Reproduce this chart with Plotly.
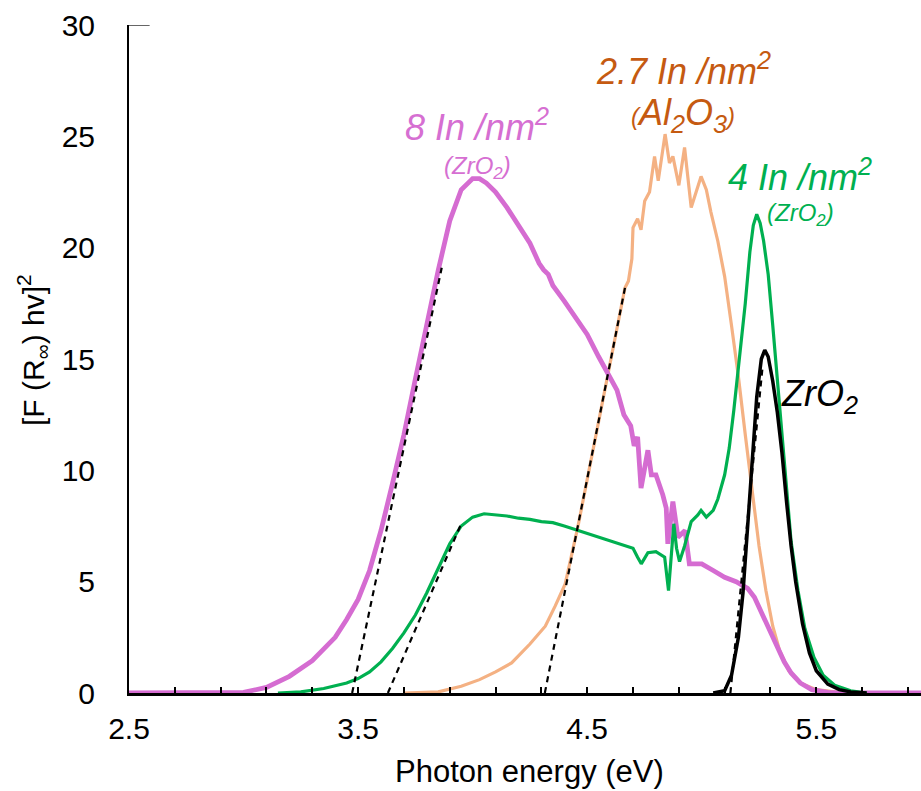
import plotly.graph_objects as go

# ---------------- data ----------------
pink_x = [2.5, 2.9, 3.0, 3.1, 3.2, 3.3, 3.4, 3.45, 3.5, 3.55, 3.6, 3.65, 3.7, 3.75, 3.8, 3.85,
          3.9, 3.95, 4.0, 4.03, 4.06, 4.1, 4.15, 4.2, 4.25, 4.29, 4.31, 4.33, 4.35, 4.4, 4.45,
          4.5, 4.55, 4.6, 4.63, 4.66, 4.69, 4.705, 4.72, 4.735, 4.765, 4.78, 4.80, 4.83, 4.845,
          4.852, 4.874, 4.896, 4.927, 4.946, 4.97, 5.0, 5.05, 5.1, 5.15, 5.2, 5.23, 5.26, 5.29,
          5.33, 5.36, 5.39, 5.43, 5.48, 5.55, 5.6, 5.957]
pink_y = [0, 0, 0.03, 0.25, 0.75, 1.45, 2.5, 3.3, 4.2, 5.5, 7.3, 9.4, 11.6, 14.1, 16.6, 19.0,
          21.2, 22.6, 23.1, 23.1, 22.9, 22.5, 21.8, 21.0, 20.2, 19.3, 19.0, 18.8, 18.3, 17.6, 16.8,
          16.1, 15.1, 14.2, 13.6, 12.5, 12.0, 11.1, 11.5, 9.2, 10.9, 9.8, 9.8, 8.9, 8.3,
          6.7, 8.6, 7.0, 7.3, 5.8, 5.8, 5.8, 5.5, 5.2, 5.0, 4.7, 4.3, 3.6, 3.0,
          2.0, 1.4, 0.9, 0.45, 0.15, 0.03, 0, 0]

green_x = [3.15, 3.25, 3.35, 3.45, 3.5, 3.55, 3.6, 3.65, 3.7, 3.75, 3.8, 3.85, 3.9, 3.95, 4.0,
           4.05, 4.1, 4.15, 4.2, 4.25, 4.3, 4.35, 4.4, 4.43, 4.47, 4.5, 4.55, 4.6, 4.65, 4.7,
           4.72, 4.736, 4.765, 4.80, 4.838, 4.855, 4.878, 4.89, 4.903, 4.925, 4.954, 4.983,
           4.997, 5.02, 5.05, 5.07, 5.1, 5.12, 5.14, 5.165, 5.19, 5.21, 5.225, 5.24, 5.255,
           5.27, 5.29, 5.31, 5.33, 5.35, 5.37, 5.39, 5.42, 5.45, 5.49, 5.53, 5.58, 5.65, 5.72]
green_y = [0, 0.05, 0.2, 0.45, 0.65, 0.95, 1.4, 2.0, 2.7, 3.5, 4.5, 5.6, 6.7, 7.5, 7.9,
           8.05, 8.0, 7.95, 7.85, 7.8, 7.7, 7.65, 7.5, 7.4, 7.3, 7.2, 7.0, 6.85, 6.7, 6.5,
           6.1, 5.8, 6.3, 6.35, 6.1, 4.6, 7.6, 6.5, 5.9, 6.6, 7.7, 8.0,
           8.2, 7.9, 8.2, 8.7, 9.8, 11.0, 12.7, 15.0, 17.5, 19.8, 21.0, 21.5, 21.1,
           20.3, 18.8, 16.5, 14.0, 11.5, 9.0, 6.8, 4.6, 2.9, 1.6, 0.8, 0.35, 0.1, 0]

orange_x = [3.7, 3.85, 3.95, 4.03, 4.1, 4.17, 4.25, 4.317, 4.36, 4.404, 4.46, 4.5, 4.55, 4.6,
            4.64, 4.665, 4.68, 4.695, 4.70, 4.72, 4.735, 4.751, 4.772, 4.794, 4.81, 4.84,
            4.859, 4.874, 4.9, 4.925, 4.954, 4.975, 4.997, 5.02, 5.04, 5.07, 5.1, 5.13, 5.16,
            5.19, 5.22, 5.25, 5.28, 5.31, 5.34, 5.38, 5.43, 5.5, 5.6, 5.8]
orange_y = [0, 0.05, 0.3, 0.6, 0.95, 1.35, 2.2, 3.0, 3.9, 4.9, 7.5, 9.6, 12.2, 14.8,
            16.9, 18.2, 18.5, 19.5, 20.9, 21.3, 20.8, 22.1, 22.5, 24.1, 23.0, 25.1,
            23.8, 24.1, 22.8, 24.5, 21.8, 22.5, 23.2, 22.6, 21.6, 20.3, 18.7, 16.5, 14.2,
            11.6, 9.0, 6.6, 4.6, 3.0, 1.9, 1.0, 0.45, 0.15, 0.03, 0]

black_x = [5.05, 5.10, 5.13, 5.16, 5.18, 5.20, 5.22, 5.24, 5.26, 5.275, 5.29, 5.31, 5.33,
           5.35, 5.37, 5.39, 5.41, 5.44, 5.47, 5.50, 5.55, 5.6, 5.65, 5.72]
black_y = [0, 0.1, 0.8, 2.5, 4.5, 7.5, 10.5, 13.3, 15.0, 15.4, 15.1, 14.0, 12.6,
           10.8, 8.6, 6.6, 5.0, 3.1, 1.8, 1.0, 0.4, 0.15, 0.05, 0]

# Tauc tangent lines (extrapolated band-gap fits)
tan_pink_x, tan_pink_y = [3.474, 3.865], [0, 19.1]
tan_green_x, tan_green_y = [3.63, 3.95], [0, 7.6]
tan_orange_x, tan_orange_y = [4.315, 4.665], [0, 18.2]
tan_black_x, tan_black_y = [5.125, 5.265], [0, 14.6]

x_tick_vals = [2.5, 3.5, 4.5, 5.5]
x_tick_text = ["2.5", "3.5", "4.5", "5.5"]
y_tick_vals = [0, 5, 10, 15, 20, 25, 30]

# ---------------- styles ----------------
PINK = "#D56CD1"
PINK_TXT = "#D66FD2"
GREEN = "#00B050"
ORANGE = "#F4B183"
ORANGE_TXT = "#C55A11"
FONT = "Arial, Liberation Sans, sans-serif"

fig = go.Figure()
fig.add_trace(go.Scatter(x=orange_x, y=orange_y, mode="lines",
                         line=dict(color=ORANGE, width=3.2), showlegend=False))
fig.add_trace(go.Scatter(x=pink_x, y=pink_y, mode="lines",
                         line=dict(color=PINK, width=4.8), showlegend=False))
fig.add_trace(go.Scatter(x=green_x, y=green_y, mode="lines",
                         line=dict(color=GREEN, width=3.2), showlegend=False))
fig.add_trace(go.Scatter(x=black_x, y=black_y, mode="lines",
                         line=dict(color="black", width=3.5), showlegend=False))
for tx, ty in [(tan_pink_x, tan_pink_y), (tan_green_x, tan_green_y),
               (tan_orange_x, tan_orange_y), (tan_black_x, tan_black_y)]:
    fig.add_trace(go.Scatter(x=tx, y=ty, mode="lines",
                             line=dict(color="black", width=2.2, dash="6px,5px"),
                             showlegend=False))

anns = [
    dict(x=4.018, y=25.5, text="<i>8 In /nm<sup>2</sup></i>", color=PINK_TXT, size=36),
    dict(x=4.023, y=23.62, text="<i>(ZrO<sub>2</sub>)</i>", color=PINK_TXT, size=24),
    dict(x=4.922, y=28.02, text="<i>2.7 In /nm<sup>2</sup></i>", color=ORANGE_TXT, size=36),
    dict(x=4.918, y=25.95,
         text="<i><span style='font-size:24px'>(</span>Al<sub>2</sub>O<sub>3</sub>"
              "<span style='font-size:24px'>)</span></i>",
         color=ORANGE_TXT, size=36),
    dict(x=5.429, y=23.26, text="<i>4 In /nm<sup>2</sup></i>", color=GREEN, size=36),
    dict(x=5.433, y=21.51, text="<i>(ZrO<sub>2</sub>)</i>", color=GREEN, size=24),
    dict(x=5.516, y=13.34, text="<i>ZrO<sub>2</sub></i>", color="black", size=36),
]
for a in anns:
    fig.add_annotation(x=a["x"], y=a["y"], xref="x", yref="y", text=a["text"],
                       showarrow=False, xanchor="center", yanchor="middle",
                       font=dict(family=FONT, size=a["size"], color=a["color"]))

# axis titles
fig.add_annotation(x=0.506, y=-0.1168, xref="paper", yref="paper",
                   text="Photon energy (eV)", showarrow=False,
                   xanchor="center", yanchor="middle",
                   font=dict(family=FONT, size=31, color="black"))
fig.add_annotation(x=-0.1212, y=0.5135, xref="paper", yref="paper",
                   text="[F (R<sub>∞</sub>) hv]<sup>2</sup>", showarrow=False,
                   textangle=-90, xanchor="center", yanchor="middle",
                   font=dict(family=FONT, size=30, color="black"))

# short top border stub
fig.add_shape(type="line", xref="x", yref="y", x0=2.5, x1=2.59, y0=30, y1=30,
              line=dict(color="#333333", width=1.5))

fig.update_layout(
    width=921, height=791,
    margin=dict(l=129, r=0, t=25, b=98),
    paper_bgcolor="white", plot_bgcolor="white",
    font=dict(family=FONT, size=30, color="black"),
    xaxis=dict(range=[2.5, 5.957], showgrid=False, zeroline=False,
               showline=True, linecolor="black", linewidth=2.5,
               tickmode="array", tickvals=x_tick_vals, ticktext=x_tick_text,
               ticks="inside", ticklen=6, tickwidth=2, tickcolor="black",
               minor=dict(ticks="inside", tick0=2.5, dtick=0.2, ticklen=6,
                          tickwidth=2, tickcolor="black", showgrid=False),
               ticklabelstandoff=7,
               tickfont=dict(family=FONT, size=30, color="black")),
    yaxis=dict(range=[0, 30], showgrid=False, zeroline=False,
               showline=True, linecolor="black", linewidth=2,
               tickmode="array", tickvals=y_tick_vals,
               ticks="", ticklabelstandoff=26,
               tickfont=dict(family=FONT, size=30, color="black")),
)

fig.write_html("out.html")
